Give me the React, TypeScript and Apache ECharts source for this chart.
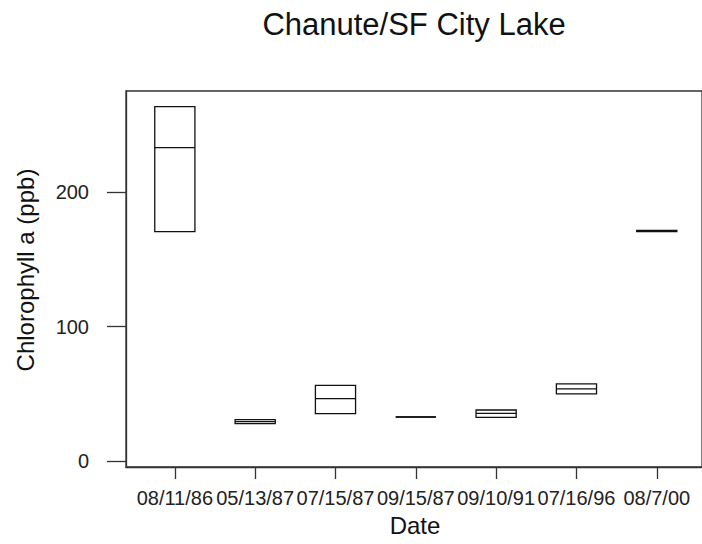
import React, { useEffect, useRef } from "react";
import * as echarts from "echarts";

const dates = ["08/11/86", "05/13/87", "07/15/87", "09/15/87", "09/10/91", "07/16/96", "08/7/00"];
const positions = [1, 2, 3, 4, 5, 6, 7];
const q1Values = [170.6, 27.8, 35.2, 32.7, 32.5, 49.9, 170.6];
const medianValues = [233.1, 29.2, 46.4, 32.7, 35.4, 53.6, 171.1];
const q3Values = [263.6, 30.7, 56.3, 32.7, 37.9, 57.3, 171.6];
const yTicks = [0, 100, 200];

const FONT = "'Liberation Sans', Arial, Helvetica, sans-serif";
const INK = "#222";

export default function App() {
  const ref = useRef<HTMLDivElement>(null);
  useEffect(() => {
    if (!ref.current) return;
    const chart = echarts.init(ref.current, undefined, { renderer: "svg" });
    const data = positions.map((p, i) => [p, q1Values[i], medianValues[i], q3Values[i]]);
    chart.setOption({
      animation: false,
      backgroundColor: "#fff",
      grid: { left: 126, top: 91, width: 578, height: 376, show: true, borderColor: "#333", borderWidth: 1.3, backgroundColor: "transparent" },
      xAxis: {
        type: "value",
        min: 0.392,
        max: 7.563,
        splitLine: { show: false },
        axisLine: { show: true, onZero: false, lineStyle: { color: "#333", width: 1.3 } },
        axisTick: { show: true, customValues: positions, length: 12, lineStyle: { color: "#333", width: 1.3 } },
        axisLabel: {
          customValues: positions,
          margin: 21,
          fontSize: 20,
          lineHeight: 20,
          fontFamily: FONT,
          color: INK,
          hideOverlap: false,
          formatter: (v: number) => dates[Math.round(v) - 1] ?? "",
        },
      },
      yAxis: {
        type: "value",
        min: -4.5,
        max: 275.3,
        splitLine: { show: false },
        axisLine: { show: true, onZero: false, lineStyle: { color: "#333", width: 1.3 } },
        axisTick: { show: true, customValues: yTicks, length: 19, lineStyle: { color: "#333", width: 1.3 } },
        axisLabel: { customValues: yTicks, margin: 37, fontSize: 20, fontFamily: FONT, color: INK },
      },
      series: [
        {
          type: "custom",
          data,
          encode: { x: 0, y: [1, 2, 3] },
          renderItem: (params: any, api: any) => {
            const x = api.value(0);
            const lo = api.coord([x, api.value(1)]);
            const med = api.coord([x, api.value(2)]);
            const hi = api.coord([x, api.value(3)]);
            const w = api.size([0.5, 0])[0];
            const style = { stroke: "#111", fill: "none", lineWidth: 1.3 };
            return {
              type: "group",
              children: [
                { type: "rect", shape: { x: lo[0] - w / 2, y: hi[1], width: w, height: lo[1] - hi[1] }, style },
                { type: "line", shape: { x1: med[0] - w / 2, y1: med[1], x2: med[0] + w / 2, y2: med[1] }, style },
              ],
            };
          },
        },
      ],
      graphic: [
        { type: "text", x: 414, y: 24, style: { text: "Chanute/SF City Lake", font: `31px ${FONT}`, fill: "#111", align: "center", verticalAlign: "middle" } },
        { type: "text", x: 415, y: 525, style: { text: "Date", font: `24px ${FONT}`, fill: "#111", align: "center", verticalAlign: "middle" } },
        { type: "text", x: 25, y: 270, rotation: Math.PI / 2, style: { text: "Chlorophyll a (ppb)", font: `24px ${FONT}`, fill: "#111", align: "center", verticalAlign: "middle" } },
      ],
    });
    return () => chart.dispose();
  }, []);
  return <div ref={ref} style={{ position: "fixed", left: 0, top: 0, width: 702, height: 544 }} />;
}
